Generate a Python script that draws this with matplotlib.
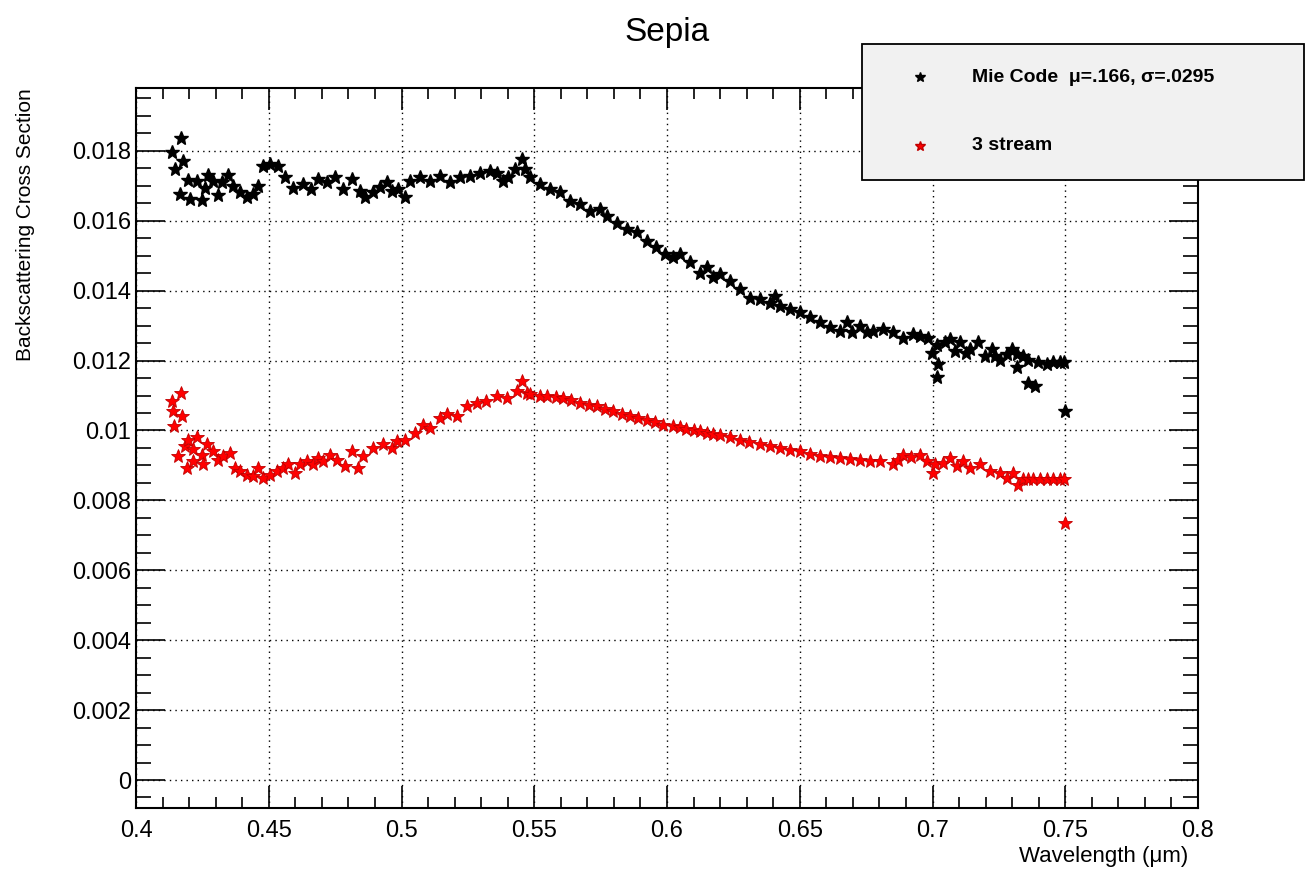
import matplotlib
matplotlib.use("Agg")
import matplotlib.pyplot as plt
from matplotlib.patches import Rectangle
from matplotlib.lines import Line2D
from matplotlib.ticker import MultipleLocator

plt.rcParams['font.family'] = ['Liberation Sans', 'DejaVu Sans']

# Mie code (black)
mie_wl = [0.4135, 0.4147, 0.4166, 0.4168, 0.4175, 0.4196, 0.4203, 0.4228, 0.4247, 0.4260,
          0.4271, 0.4290, 0.4310, 0.4323, 0.4347, 0.4365, 0.4392, 0.4417, 0.4440, 0.4460,
          0.4478, 0.4505, 0.4535, 0.4560, 0.4590, 0.4630, 0.4660, 0.4686, 0.4720, 0.4750,
          0.4780, 0.4812, 0.4844, 0.4862, 0.4893, 0.4920, 0.4944, 0.4963, 0.4987, 0.5013,
          0.5032, 0.5070, 0.5107, 0.5145, 0.5183, 0.5220, 0.5258, 0.5296, 0.5333, 0.5358,
          0.5383, 0.5400, 0.5427, 0.5452, 0.5465, 0.5484, 0.5521, 0.5559, 0.5597, 0.5635,
          0.5672, 0.5710, 0.5748, 0.5773, 0.5810, 0.5848, 0.5886, 0.5923, 0.5960, 0.5993,
          0.6023, 0.6049, 0.6087, 0.6124, 0.6150, 0.6174, 0.6200, 0.6237, 0.6275, 0.6313,
          0.6350, 0.6388, 0.6407, 0.6426, 0.6463, 0.6501, 0.6539, 0.6576, 0.6614, 0.6652,
          0.6677, 0.6695, 0.6727, 0.6752, 0.6776, 0.6813, 0.6851, 0.6889, 0.6927, 0.6953,
          0.6983, 0.6997, 0.7016, 0.7016, 0.7021, 0.7047, 0.7066, 0.7085, 0.7104, 0.7126,
          0.7141, 0.7171, 0.7198, 0.7223, 0.7235, 0.7254, 0.7279, 0.7298, 0.7317, 0.7317,
          0.7341, 0.7360, 0.7360, 0.7386, 0.7397, 0.7430, 0.7454, 0.7480, 0.7495, 0.7500]
mie_bs = [0.01796, 0.01748, 0.01676, 0.01837, 0.01772, 0.01716, 0.01662, 0.01714, 0.01660, 0.01693,
          0.01730, 0.01714, 0.01673, 0.01710, 0.01730, 0.01700, 0.01682, 0.01667, 0.01676, 0.01700,
          0.01757, 0.01762, 0.01757, 0.01724, 0.01695, 0.01705, 0.01690, 0.01719, 0.01710, 0.01724,
          0.01690, 0.01720, 0.01685, 0.01667, 0.01682, 0.01696, 0.01710, 0.01685, 0.01690, 0.01667,
          0.01714, 0.01724, 0.01714, 0.01728, 0.01710, 0.01724, 0.01728, 0.01738, 0.01743, 0.01738,
          0.01714, 0.01724, 0.01748, 0.01776, 0.01748, 0.01724, 0.01705, 0.01690, 0.01682, 0.01657,
          0.01648, 0.01628, 0.01633, 0.01614, 0.01595, 0.01576, 0.01567, 0.01542, 0.01524, 0.01504,
          0.01496, 0.01504, 0.01481, 0.01452, 0.01467, 0.01438, 0.01447, 0.01428, 0.01404, 0.01380,
          0.01375, 0.01366, 0.01384, 0.01356, 0.01347, 0.01338, 0.01324, 0.01309, 0.01295, 0.01284,
          0.01309, 0.01281, 0.01300, 0.01281, 0.01284, 0.01290, 0.01281, 0.01266, 0.01275, 0.01270,
          0.01266, 0.01223, 0.01246, 0.01152, 0.01189, 0.01252, 0.01261, 0.01227, 0.01252, 0.01223,
          0.01232, 0.01252, 0.01212, 0.01232, 0.01212, 0.01203, 0.01218, 0.01232, 0.01218, 0.01183,
          0.01212, 0.01203, 0.01137, 0.01127, 0.01195, 0.01189, 0.01195, 0.01195, 0.01195, 0.01055]

# 3 stream (red)
ts_wl = [0.4134, 0.4140, 0.4143, 0.4159, 0.4168, 0.4172, 0.4184, 0.4191, 0.4197, 0.4216,
         0.4216, 0.4229, 0.4247, 0.4253, 0.4266, 0.4291, 0.4310, 0.4329, 0.4354, 0.4373,
         0.4392, 0.4417, 0.4441, 0.4460, 0.4479, 0.4505, 0.4530, 0.4554, 0.4574, 0.4599,
         0.4618, 0.4643, 0.4667, 0.4687, 0.4705, 0.4731, 0.4756, 0.4787, 0.4812, 0.4837,
         0.4856, 0.4894, 0.4931, 0.4963, 0.4982, 0.5013, 0.5051, 0.5082, 0.5107, 0.5145,
         0.5170, 0.5208, 0.5245, 0.5283, 0.5320, 0.5358, 0.5396, 0.5434, 0.5452, 0.5471,
         0.5484, 0.5520, 0.5547, 0.5580, 0.5609, 0.5640, 0.5672, 0.5705, 0.5735, 0.5765,
         0.5797, 0.5830, 0.5860, 0.5890, 0.5923, 0.5955, 0.5985, 0.6023, 0.6049, 0.6073,
         0.6100, 0.6124, 0.6150, 0.6175, 0.6200, 0.6237, 0.6275, 0.6310, 0.6350, 0.6388,
         0.6426, 0.6463, 0.6501, 0.6539, 0.6576, 0.6614, 0.6652, 0.6690, 0.6727, 0.6765,
         0.6802, 0.6852, 0.6870, 0.6890, 0.6920, 0.6953, 0.6978, 0.7003, 0.7009, 0.7040,
         0.7066, 0.7091, 0.7116, 0.7141, 0.7179, 0.7216, 0.7254, 0.7279, 0.7304, 0.7323,
         0.7342, 0.7360, 0.7380, 0.7405, 0.7430, 0.7455, 0.7480, 0.7495, 0.7500]
ts_bs = [0.01084, 0.01055, 0.01012, 0.00926, 0.01106, 0.01041, 0.00955, 0.00894, 0.00974, 0.00946,
         0.00912, 0.00980, 0.00931, 0.00903, 0.00960, 0.00940, 0.00917, 0.00926, 0.00936, 0.00894,
         0.00883, 0.00874, 0.00869, 0.00894, 0.00865, 0.00874, 0.00883, 0.00894, 0.00903, 0.00879,
         0.00903, 0.00912, 0.00903, 0.00922, 0.00912, 0.00931, 0.00917, 0.00898, 0.00940, 0.00894,
         0.00926, 0.00951, 0.00960, 0.00951, 0.00969, 0.00974, 0.00993, 0.01017, 0.01008, 0.01036,
         0.01046, 0.01041, 0.01069, 0.01079, 0.01084, 0.01098, 0.01093, 0.01112, 0.01141, 0.01108,
         0.01103, 0.01100, 0.01098, 0.01096, 0.01093, 0.01086, 0.01079, 0.01074, 0.01069, 0.01062,
         0.01055, 0.01048, 0.01041, 0.01036, 0.01031, 0.01024, 0.01017, 0.01012, 0.01010, 0.01003,
         0.01002, 0.00998, 0.00994, 0.00990, 0.00987, 0.00980, 0.00974, 0.00967, 0.00960, 0.00955,
         0.00950, 0.00945, 0.00940, 0.00933, 0.00926, 0.00923, 0.00921, 0.00919, 0.00917, 0.00914,
         0.00912, 0.00903, 0.00915, 0.00931, 0.00925, 0.00931, 0.00912, 0.00879, 0.00903, 0.00908,
         0.00921, 0.00898, 0.00912, 0.00893, 0.00903, 0.00883, 0.00879, 0.00864, 0.00879, 0.00845,
         0.00860, 0.00860, 0.00860, 0.00860, 0.00860, 0.00860, 0.00860, 0.00860, 0.00735]

x_ticks = [0.4, 0.45, 0.5, 0.55, 0.6, 0.65, 0.7, 0.75, 0.8]
x_labels = ['0.4', '0.45', '0.5', '0.55', '0.6', '0.65', '0.7', '0.75', '0.8']
y_ticks = [0, 0.002, 0.004, 0.006, 0.008, 0.01, 0.012, 0.014, 0.016, 0.018]
y_labels = ['0', '0.002', '0.004', '0.006', '0.008', '0.01', '0.012', '0.014', '0.016', '0.018']

fig = plt.figure(figsize=(13.12, 8.77), dpi=100, facecolor='white')
ax = fig.add_axes([0.1037, 0.0787, 0.8094, 0.821])

ax.plot(mie_wl, mie_bs, ls='none', marker='*', ms=10, color='black', zorder=3)
ax.plot(ts_wl, ts_bs, ls='none', marker='*', ms=10, mfc='red', mec='#c00000', mew=0.6, zorder=3)

ax.set_xlim(0.4, 0.8)
ax.set_ylim(-0.0008, 0.0198)
ax.set_xticks(x_ticks)
ax.set_xticklabels(x_labels)
ax.set_yticks(y_ticks)
ax.set_yticklabels(y_labels)
ax.xaxis.set_minor_locator(MultipleLocator(0.01))
ax.yaxis.set_minor_locator(MultipleLocator(0.0005))

ax.grid(True, which='major', color='black', ls=(0, (1, 3)), lw=1.0)
ax.tick_params(which='both', direction='in', top=True, right=True, labelsize=17, width=1.2)
ax.tick_params(axis='y', which='major', length=21)
ax.tick_params(axis='y', which='minor', length=11)
ax.tick_params(axis='x', which='major', length=16)
ax.tick_params(axis='x', which='minor', length=8)
ax.tick_params(axis='x', pad=9)
for s in ax.spines.values():
    s.set_linewidth(1.5)

fig.text(0.5085, 0.963, 'Sepia', ha='center', va='center', fontsize=24)
ax.set_ylabel('Backscattering Cross Section', fontsize=15, loc='top')
ax.yaxis.set_label_coords(-0.095, 1.0)
fig.text(0.906, 0.023, 'Wavelength (\u03bcm)', ha='right', va='center', fontsize=16)

# legend box
W, H = 1312.0, 877.0
fig.patches.append(Rectangle((862 / W, 1 - 180 / H), 442 / W, 136 / H, transform=fig.transFigure,
                             facecolor='#f1f1f1', edgecolor='black', lw=1.3, zorder=5))
fig.lines.append(Line2D([920 / W], [1 - 77 / H], transform=fig.transFigure, ls='none', marker='*',
                        ms=7, color='black', zorder=6))
fig.lines.append(Line2D([920 / W], [1 - 146 / H], transform=fig.transFigure, ls='none', marker='*',
                        ms=7, mfc='red', mec='#c00000', zorder=6))
fig.text(972 / W, 1 - 77 / H, 'Mie Code  \u03bc=.166, \u03c3=.0295', fontsize=14, fontweight='bold',
         va='center', ha='left', zorder=7)
fig.text(972 / W, 1 - 146 / H, '3 stream', fontsize=14, fontweight='bold', va='center', ha='left', zorder=7)

fig.savefig('out.png', dpi=100)
